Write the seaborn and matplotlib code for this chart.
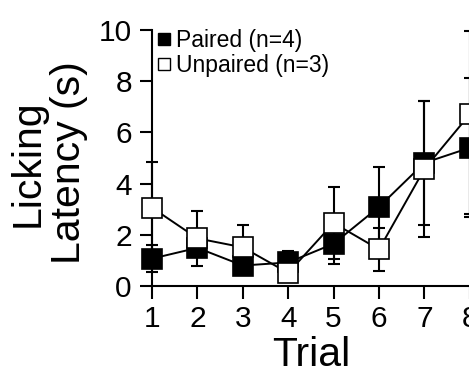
import numpy as np
import pandas as pd
import matplotlib
matplotlib.use("Agg")
import matplotlib.pyplot as plt
import seaborn as sns
from matplotlib.lines import Line2D

# ── Datos ──────────
trials = [1, 2, 3, 4, 5, 6, 7, 8]
paired_mean = [1.07, 1.49, 0.80, 0.92, 1.65, 3.09, 4.81, 5.40]
paired_sem = [0.54, 0.30, 0.30, 0.45, 0.81, 1.56, 2.43, 2.72]
unpaired_mean = [3.06, 1.86, 1.51, 0.51, 2.46, 1.43, 4.57, 6.71]
unpaired_sem_lo = [1.78, 1.07, 0.88, 0.30, 1.42, 0.85, 2.64, 3.90]
unpaired_sem_hi = [1.78, 1.07, 0.88, 0.30, 1.42, 0.85, 2.64, 3.27]
labels = ["Paired (n=4)", "Unpaired (n=3)"]

df = pd.DataFrame({
    "trial": trials * 2,
    "latency": paired_mean + unpaired_mean,
    "group": [labels[0]] * 8 + [labels[1]] * 8,
})

sns.set_style("ticks", {"axes.edgecolor": "black", "text.color": "black",
                        "axes.labelcolor": "black", "xtick.color": "black",
                        "ytick.color": "black"})
plt.rcParams["font.family"] = ["Liberation Sans", "DejaVu Sans"]

fig = plt.figure(figsize=(4.69, 3.69), dpi=100)
ax = fig.add_axes([152 / 469, 1 - 286 / 369, 7 * 45.4 / 469, 256 / 369])

# barras de error (debajo de los marcadores)
ax.errorbar(trials, paired_mean, yerr=paired_sem, fmt="none", ecolor="black",
            elinewidth=1.5, capsize=4.5, capthick=1.5, zorder=1, clip_on=False)
ax.errorbar(trials, unpaired_mean, yerr=[unpaired_sem_lo, unpaired_sem_hi],
            fmt="none", ecolor="black", elinewidth=1.5, capsize=4.5,
            capthick=1.5, zorder=1, clip_on=False)

sns.lineplot(data=df, x="trial", y="latency", hue="group", style="group",
             hue_order=labels, palette=["black", "black"],
             markers={labels[0]: "s", labels[1]: "s"}, dashes=False,
             markersize=15, markeredgewidth=1.2, markeredgecolor="black",
             linewidth=1.4, legend=False, ax=ax, zorder=3, clip_on=False)

# rellenar marcadores: negro para Paired, blanco para Unpaired
lines = ax.get_lines()
for ln in lines:
    if ln.get_marker() == "s":
        ln.set_clip_on(False)
lines[-1].set_markerfacecolor("white")
lines[-1].set_zorder(4)
lines[-2].set_markerfacecolor("black")

ax.set_xlim(1, 8)
ax.set_ylim(0, 10)
ax.set_xticks(trials)
ax.set_yticks([0, 2, 4, 6, 8, 10])
sns.despine(ax=ax)
for s in ["left", "bottom"]:
    ax.spines[s].set_linewidth(1.5)
    ax.spines[s].set_color("black")
ax.tick_params(axis="both", direction="out", length=9, width=1.5,
               labelsize=21.5, color="black", labelcolor="black")
ax.tick_params(axis="y", pad=5.5)
ax.tick_params(axis="x", pad=5)

ax.set_xlabel("Trial", fontsize=29.5, color="black")
ax.xaxis.set_label_coords(0.5, -0.197)
ax.set_ylabel("Licking\nLatency (s)", fontsize=29.5, linespacing=1.12,
              color="black")
ax.yaxis.set_label_coords(-0.2, 0.48)

handles = [
    Line2D([], [], marker="s", linestyle="none", markersize=8,
           markerfacecolor="black", markeredgecolor="black", markeredgewidth=1),
    Line2D([], [], marker="s", linestyle="none", markersize=8,
           markerfacecolor="white", markeredgecolor="black", markeredgewidth=1),
]
ax.legend(handles, labels, loc="upper left", frameon=False, fontsize=16.5,
          bbox_to_anchor=(157 / 469, 1 - 29 / 369),
          bbox_transform=fig.transFigure, borderpad=0, borderaxespad=0,
          handlelength=0.6, handletextpad=0.25, labelspacing=0.08)

fig.savefig("out.png", dpi=100)
